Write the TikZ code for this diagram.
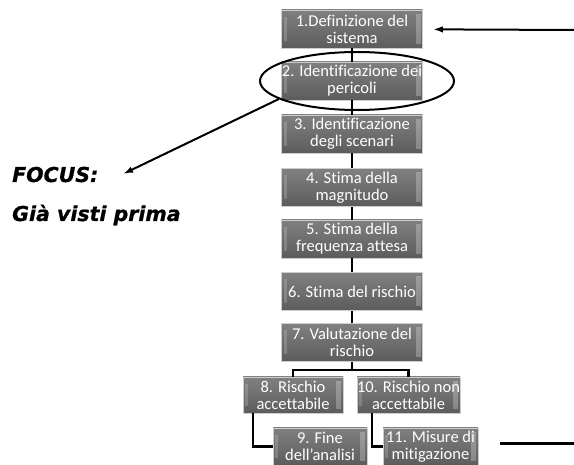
\documentclass[tikz,border=0pt]{standalone}
\usepackage{fontspec}
\setmainfont{Carlito}[Ligatures=CommonOff]
\newfontfamily\focusfont{DejaVu Sans}[BoldItalicFeatures={FakeBold=0.8}]
\usetikzlibrary{shapes.geometric,arrows.meta,calc}

\definecolor{boxtop}{RGB}{128,128,128}
\definecolor{boxbot}{RGB}{92,92,92}
\definecolor{boxedge}{RGB}{205,205,205}

\begin{document}
\begin{tikzpicture}[x=1pt,y=-1pt,
  stepbox/.style={rectangle, minimum width=141pt, minimum height=38pt,
    inner sep=0pt, draw=boxedge, line width=0.7pt,
    top color=boxtop, bottom color=boxbot, text=white, align=center,
    font=\fontsize{16.5}{17}\selectfont,
    path picture={
      \fill[white,opacity=0.18]
        ([xshift=2pt,yshift=-7pt]path picture bounding box.north west)
        rectangle ([xshift=5pt,yshift=7pt]path picture bounding box.south west);
      \fill[white,opacity=0.25]
        ([xshift=-7pt,yshift=-4pt]path picture bounding box.north east)
        rectangle ([xshift=-2pt,yshift=4pt]path picture bounding box.south east);
    }},
  smallbox/.style={stepbox, minimum height=36pt},
  link/.style={line width=2.6pt, black},
  pointer/.style={line width=2pt, black, -{Latex[length=10pt,width=6.5pt]}},
  focustext/.style={anchor=base west, inner sep=0pt,
    font=\focusfont\bfseries\itshape\fontsize{20.5}{24}\selectfont}]

\fill[white] (0,0) rectangle (574,465);
\useasboundingbox (0,0) rectangle (574,465);

% main column of steps
\node[stepbox] (b1) at (352,29)    {1.Definizione del\\sistema};
\node[stepbox] (b2) at (352,81)    {2. Identificazione dei\\pericoli};
\node[stepbox] (b3) at (352,134)   {3. Identificazione\\degli scenari};
\node[stepbox] (b4) at (352,187.5) {4. Stima della\\magnitudo};
\node[stepbox] (b5) at (352,239)   {5. Stima della\\frequenza attesa};
\node[stepbox] (b6) at (352,291.5) {6. Stima del rischio};
\node[stepbox] (b7) at (352,342.5) {7. Valutazione del\\rischio};

% two branches
\node[smallbox, minimum width=100pt] (b8)  at (293,395)   {8. Rischio\\accettabile};
\node[smallbox, minimum width=103pt] (b10) at (408.5,395) {10. Rischio non\\accettabile};
\node[smallbox, minimum width=94pt, minimum height=37pt]  (b9)  at (320,446.5)   {9. Fine\\dell’analisi};
\node[smallbox, minimum width=95pt, minimum height=37pt]  (b11) at (430.5,446.5) {11. Misure di\\mitigazione};

% connectors
\draw[link] (b1) -- (b2);
\draw[link] (b2) -- (b3);
\draw[link] (b3) -- (b4);
\draw[link] (b4) -- (b5);
\draw[link] (b5) -- (b6);
\draw[link] (b6) -- (b7);
\coordinate (split) at (352,370);
\draw[link] (b7) -- (split);
\draw[link] (b8.north) |- (split) -| (b10.north);
\draw[link] ([xshift=-40pt]b8.south) |- (b9.west);
\draw[link] ([xshift=-36.5pt]b10.south) |- (b11.west);

% highlight around step 2
\node[draw, ellipse, line width=2pt, minimum width=194pt, minimum height=58pt,
      inner sep=0pt] (ring) at (357,81) {};

% side notes
\node[focustext] (focus) at (12,182) {FOCUS:};
\node[focustext] (seen)  at (12,221) {Già visti prima};

\coordinate (focustip) at (123,174);
\draw[pointer] (ring.193) -- (focustip);

\coordinate (topin) at (574,30);
\draw[pointer, shorten >=10pt] (topin) -- (b1);

\coordinate (tailA) at (500,444);
\coordinate (tailB) at (574,444);
\draw[line width=3pt] (tailA) -- (tailB);

\end{tikzpicture}
\end{document}
